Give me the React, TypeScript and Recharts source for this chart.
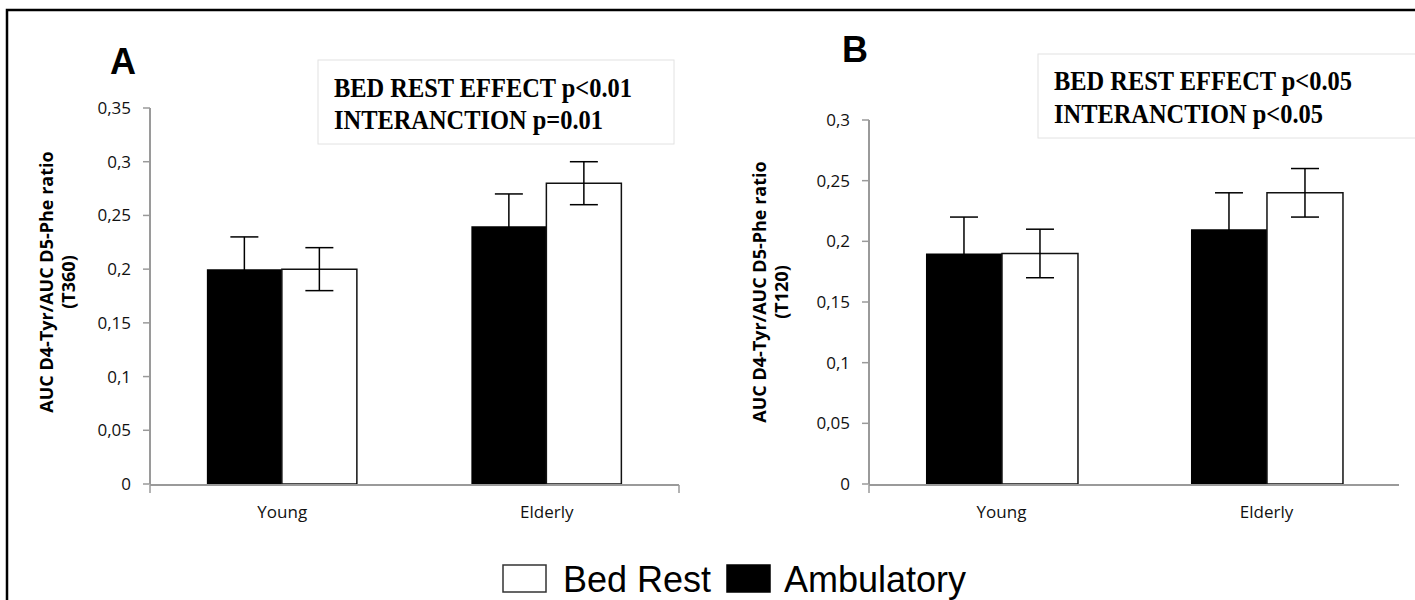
import React from "react";
import { BarChart, Bar, XAxis, YAxis, ErrorBar } from "recharts";

const categories = ["Young", "Elderly"];

// Panel A (T360)
const ambulatoryA = [0.2, 0.24];
const ambulatoryErrA = [0.03, 0.03];
const bedRestA = [0.2, 0.28];
const bedRestErrA = [0.02, 0.02];
const ticksA = [0, 0.05, 0.1, 0.15, 0.2, 0.25, 0.3, 0.35];

// Panel B (T120)
const ambulatoryB = [0.19, 0.21];
const ambulatoryErrB = [0.03, 0.03];
const bedRestB = [0.19, 0.24];
const bedRestErrB = [0.02, 0.02];
const ticksB = [0, 0.05, 0.1, 0.15, 0.2, 0.25, 0.3];

// category boundaries (for the boundary tick marks on the x axis)
const edgeTicks = [0, 1, 2];

const dataA = categories.map((c, i) => ({
  name: c,
  amb: ambulatoryA[i],
  ambErr: ambulatoryErrA[i],
  bed: bedRestA[i],
  bedErr: bedRestErrA[i],
}));
const dataB = categories.map((c, i) => ({
  name: c,
  amb: ambulatoryB[i],
  ambErr: ambulatoryErrB[i],
  bed: bedRestB[i],
  bedErr: bedRestErrB[i],
}));

const AXIS = "#9a9a9a";
const TICK_FONT = { fontFamily: "'Open Sans', sans-serif", fontSize: 17, fill: "#111" };
const fmt = (v: number) => String(v).replace(".", ",");

const EmptyTick = () => <g />;

function Panel({ data, ticks, max, width, margin }: any) {
  return (
    <BarChart
      width={width}
      height={600}
      data={data}
      margin={margin}
      barGap={0}
      barCategoryGap="21.5%"
    >
      <XAxis
        xAxisId="edge"
        type="number"
        domain={[0, 2]}
        ticks={edgeTicks}
        allowDataOverflow
        tick={EmptyTick}
        axisLine={{ stroke: AXIS, strokeWidth: 2 }}
        tickLine={{ stroke: AXIS, strokeWidth: 1.5 }}
        tickSize={8}
        height={1}
      />
      <XAxis
        dataKey="name"
        height={1}
        tickLine={false}
        tickSize={0}
        tickMargin={22}
        axisLine={false}
        tick={TICK_FONT}
        interval={0}
      />
      <YAxis
        width={60}
        domain={[0, max]}
        ticks={ticks}
        allowDataOverflow
        tickFormatter={fmt}
        axisLine={{ stroke: AXIS, strokeWidth: 2 }}
        tickLine={{ stroke: AXIS, strokeWidth: 1.5 }}
        tickSize={7}
        tickMargin={12}
        tick={TICK_FONT}
      />
      <Bar dataKey="amb" fill="#000" isAnimationActive={false}>
        <ErrorBar dataKey="ambErr" width={14} stroke="#000" strokeWidth={1.5} direction="y" />
      </Bar>
      <Bar dataKey="bed" fill="#fff" stroke="#111" strokeWidth={1.5} isAnimationActive={false}>
        <ErrorBar dataKey="bedErr" width={14} stroke="#000" strokeWidth={1.5} direction="y" />
      </Bar>
    </BarChart>
  );
}

export default function App() {
  const serif = "'Liberation Serif', 'Times New Roman', serif";
  const sans = "'Liberation Sans', Arial, sans-serif";
  const labelFont = "'Open Sans', sans-serif";
  return (
    <div style={{ position: "absolute", left: 0, top: 0, width: 1415, height: 600, background: "#fff", overflow: "hidden" }}>
      <div style={{ position: "absolute", left: 0, top: 0 }}>
        <Panel
          data={dataA}
          ticks={ticksA}
          max={0.35}
          width={700}
          margin={{ top: 108, left: 90, right: 21, bottom: 114 }}
        />
      </div>
      <div style={{ position: "absolute", left: 700, top: 0 }}>
        <Panel
          data={dataB}
          ticks={ticksB}
          max={0.3}
          width={715}
          margin={{ top: 120, left: 109, right: 16, bottom: 114 }}
        />
      </div>
      <svg
        width={1415}
        height={600}
        style={{ position: "absolute", left: 0, top: 0, pointerEvents: "none" }}
      >
        <rect x={7} y={10} width={1420} height={600} fill="none" stroke="#000" strokeWidth={2.5} />
        <text x={110} y={74} fontFamily={sans} fontWeight="bold" fontSize={36} fill="#000">A</text>
        <text x={842} y={62} fontFamily={sans} fontWeight="bold" fontSize={36} fill="#000">B</text>

        <rect x={318} y={60} width={356} height={84} fill="#fff" stroke="#e2e2e2" strokeWidth={1} />
        <text x={334} y={97} fontFamily={serif} fontWeight="bold" fontSize={28} textLength={298} lengthAdjust="spacingAndGlyphs" fill="#000">BED REST EFFECT p&lt;0.01</text>
        <text x={334} y={129} fontFamily={serif} fontWeight="bold" fontSize={28} textLength={269} lengthAdjust="spacingAndGlyphs" fill="#000">INTERANCTION p=0.01</text>

        <rect x={1038} y={54} width={400} height={84} fill="#fff" stroke="#e2e2e2" strokeWidth={1} />
        <text x={1054} y={90} fontFamily={serif} fontWeight="bold" fontSize={28} textLength={298} lengthAdjust="spacingAndGlyphs" fill="#000">BED REST EFFECT p&lt;0.05</text>
        <text x={1054} y={123} fontFamily={serif} fontWeight="bold" fontSize={28} textLength={269} lengthAdjust="spacingAndGlyphs" fill="#000">INTERANCTION p&lt;0.05</text>

        <g transform="translate(46, 282) rotate(-90)">
          <text x={0} y={0} textAnchor="middle" dominantBaseline="central" fontFamily={labelFont} fontWeight="bold" fontSize={18} fill="#000">AUC D4-Tyr/AUC D5-Phe ratio</text>
          <text x={0} y={22} textAnchor="middle" dominantBaseline="central" fontFamily={labelFont} fontWeight="bold" fontSize={18} fill="#000">(T360)</text>
        </g>
        <g transform="translate(759, 292) rotate(-90)">
          <text x={0} y={0} textAnchor="middle" dominantBaseline="central" fontFamily={labelFont} fontWeight="bold" fontSize={18} fill="#000">AUC D4-Tyr/AUC D5-Phe ratio</text>
          <text x={0} y={22} textAnchor="middle" dominantBaseline="central" fontFamily={labelFont} fontWeight="bold" fontSize={18} fill="#000">(T120)</text>
        </g>

        <rect x={503} y={565} width={43} height={27} fill="#fff" stroke="#333" strokeWidth={1.5} />
        <text x={563} y={592} fontFamily={sans} fontSize={36} fill="#000">Bed Rest</text>
        <rect x={727} y={565} width={43} height={27} fill="#000" stroke="#000" strokeWidth={1.5} />
        <text x={784} y={592} fontFamily={sans} fontSize={36} fill="#000">Ambulatory</text>
      </svg>
    </div>
  );
}
